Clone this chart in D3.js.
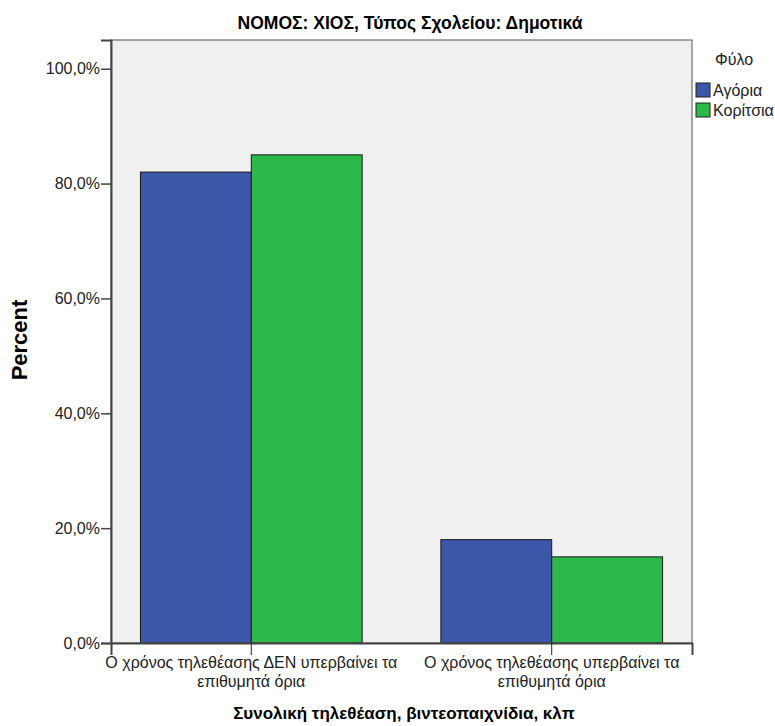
<!DOCTYPE html>
<html>
<head>
<meta charset="utf-8">
<script src="https://cdn.jsdelivr.net/npm/d3@7"></script>
<style>
  body { margin: 0; background: #fff; }
  text { font-family: "Liberation Sans", Arial, sans-serif; }
</style>
</head>
<body>
<div id="chart"></div>
<script>
// data
var categories = [
	['Ο χρόνος τηλεθέασης ΔΕΝ υπερβαίνει τα', 'επιθυμητά όρια'],
	['Ο χρόνος τηλεθέασης υπερβαίνει τα', 'επιθυμητά όρια']
];
var seriesNames = ['Αγόρια', 'Κορίτσια'];
var boys = [82.0, 18.0];
var girls = [85.0, 15.0];
var yTicks = [0, 20, 40, 60, 80, 100];
var colors = ['#3c56a9', '#2db84a'];

var width = 775, height = 726;
var margin = { top: 40, right: 83, bottom: 83, left: 111 };
var w = width - margin.left - margin.right;
var h = height - margin.top - margin.bottom;

var svg = d3.select('#chart').append('svg')
	.attr('width', width)
	.attr('height', height);

var g = svg.append('g')
	.attr('transform', 'translate(' + margin.left + ',' + margin.top + ')');

var x = d3.scaleBand()
	.domain(d3.range(categories.length))
	.range([0, w])
	.paddingInner(0.262)
	.paddingOuter(0.098);

var x1 = d3.scaleBand()
	.domain(d3.range(seriesNames.length))
	.range([0, x.bandwidth()]);

var y = d3.scaleLinear()
	.domain([0, 105])
	.range([h, 0]);

// background
g.append('rect')
	.attr('width', w)
	.attr('height', h)
	.attr('fill', '#f0f0f0');

var rows = categories.map(function(c, i) {
	return [boys[i], girls[i]];
});

var grp = g.selectAll('.grp')
	.data(rows)
	.enter().append('g')
	.attr('class', 'grp')
	.attr('transform', function(d, i) { return 'translate(' + x(i) + ',0)'; });

grp.selectAll('rect')
	.data(function(d) { return d; })
	.enter().append('rect')
	.attr('x', function(d, i) { return x1(i); })
	.attr('y', function(d) { return y(d); })
	.attr('width', x1.bandwidth())
	.attr('height', function(d) { return h - y(d); })
	.attr('fill', function(d, i) { return colors[i]; })
	.attr('stroke', '#1a1a1a')
	.attr('stroke-width', 1);

// frame
g.append('rect')
	.attr('width', w)
	.attr('height', h)
	.attr('fill', 'none')
	.attr('stroke', '#555')
	.attr('stroke-width', 1);

// y axis
var yAxis = g.append('g')
	.call(d3.axisLeft(y)
		.tickValues(yTicks)
		.tickSize(10)
		.tickPadding(1)
		.tickFormat(function(d) { return d3.format('.1f')(d).replace('.', ',') + '%'; }));
yAxis.select('.domain').attr('stroke', '#444').attr('stroke-width', 2);
yAxis.selectAll('.tick line').attr('stroke', '#444').attr('stroke-width', 1.5);
yAxis.selectAll('text')
	.attr('font-family', '"Liberation Sans", Arial, sans-serif')
	.attr('font-size', 16)
	.attr('fill', '#222');

// x axis
var xAxis = g.append('g')
	.attr('transform', 'translate(0,' + h + ')')
	.call(d3.axisBottom(x).tickSize(12).tickFormat(''));
xAxis.select('.domain').attr('stroke', '#444').attr('stroke-width', 2);
xAxis.selectAll('.tick line').attr('stroke', '#222');

xAxis.selectAll('.tick')
	.append('text')
	.attr('fill', '#222')
	.attr('text-anchor', 'middle')
	.attr('font-size', 16)
	.selectAll('tspan')
	.data(function(d) { return categories[d]; })
	.enter().append('tspan')
	.attr('x', 0)
	.attr('y', function(d, i) { return 25 + i * 19; })
	.text(function(d) { return d; });

// titles
svg.append('text')
	.attr('x', 410)
	.attr('y', 29)
	.attr('text-anchor', 'middle')
	.attr('font-family', '"Liberation Sans", Arial, sans-serif')
	.attr('font-weight', 'bold')
	.attr('font-size', 19)
	.attr('textLength', 345)
	.attr('lengthAdjust', 'spacingAndGlyphs')
	.text('ΝΟΜΟΣ: ΧΙΟΣ, Τύπος Σχολείου: Δημοτικά');

svg.append('text')
	.attr('x', 404)
	.attr('y', 719)
	.attr('text-anchor', 'middle')
	.attr('font-family', '"DejaVu Sans", sans-serif')
	.attr('font-weight', 'bold')
	.attr('font-size', 17)
	.text('Συνολική τηλεθέαση, βιντεοπαιχνίδια, κλπ');

svg.append('text')
	.attr('transform', 'translate(27,340) rotate(-90)')
	.attr('text-anchor', 'middle')
	.attr('font-family', '"Liberation Sans", Arial, sans-serif')
	.attr('font-weight', 'bold')
	.attr('font-size', 22)
	.text('Percent');

// legend
var legend = svg.append('g').attr('transform', 'translate(696,0)');
legend.append('text')
	.attr('x', 19)
	.attr('y', 65)
	.attr('font-family', '"DejaVu Sans", sans-serif')
	.attr('font-size', 16)
	.attr('fill', '#222')
	.text('Φύλο');

var li = legend.selectAll('.li')
	.data(seriesNames)
	.enter().append('g')
	.attr('class', 'li')
	.attr('transform', function(d, i) { return 'translate(0,' + (83 + i * 20) + ')'; });
li.append('rect')
	.attr('width', 14)
	.attr('height', 14)
	.attr('fill', function(d, i) { return colors[i]; })
	.attr('stroke', '#222');
li.append('text')
	.attr('x', 17)
	.attr('y', 13)
	.attr('font-size', 16)
	.attr('fill', '#222')
	.text(function(d) { return d; });
</script>
</body>
</html>
